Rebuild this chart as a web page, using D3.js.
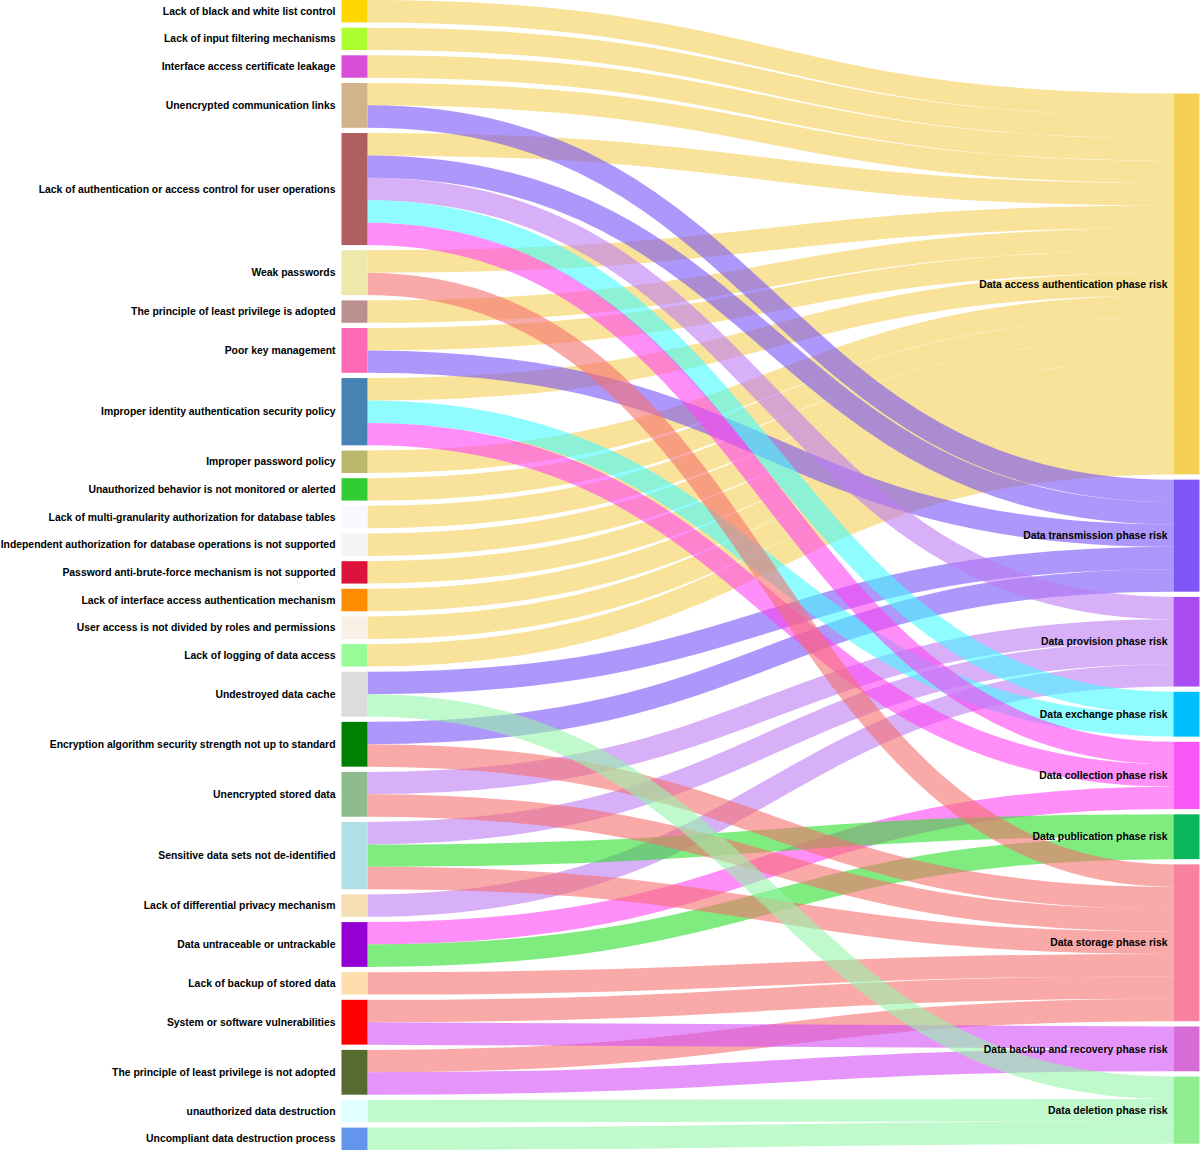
<!DOCTYPE html>
<html>
<head>
<meta charset="utf-8">
<script src="https://cdn.jsdelivr.net/npm/d3@7"></script>
<style>
  html, body { margin: 0; padding: 0; background: #ffffff; }
  svg { display: block; }
  text { font-family: "Liberation Sans", Arial, sans-serif; font-weight: bold; font-size: 10.4px; fill: #000; }
</style>
</head>
<body>
<svg id="chart" width="1200" height="1150"></svg>
<script>
// ---------------- DATA ----------------
const sourceNames = [
  "Lack of black and white list control",
  "Lack of input filtering mechanisms",
  "Interface access certificate leakage",
  "Unencrypted communication links",
  "Lack of authentication or access control for user operations",
  "Weak passwords",
  "The principle of least privilege is adopted",
  "Poor key management",
  "Improper identity authentication security policy",
  "Improper password policy",
  "Unauthorized behavior is not monitored or alerted",
  "Lack of multi-granularity authorization for database tables",
  "Independent authorization for database operations is not supported",
  "Password anti-brute-force mechanism is not supported",
  "Lack of interface access authentication mechanism",
  "User access is not divided by roles and permissions",
  "Lack of logging of data access",
  "Undestroyed data cache",
  "Encryption algorithm security strength not up to standard",
  "Unencrypted stored data",
  "Sensitive data sets not de-identified",
  "Lack of differential privacy mechanism",
  "Data untraceable or untrackable",
  "Lack of backup of stored data",
  "System or software vulnerabilities",
  "The principle of least privilege is not adopted",
  "unauthorized data destruction",
  "Uncompliant data destruction process"
];
const sourceColors = [
  "#FFD700", "#ADFF2F", "#D64FD6", "#D2B48C", "#B05F5F", "#EEE8AA", "#BC8F8F",
  "#FF69B4", "#4682B4", "#BDB76B", "#32CD32", "#F8F8FF", "#F5F5F5", "#DC143C",
  "#FF8C00", "#FAF0E6", "#98FB98", "#DCDCDC", "#008000", "#8FBC8F", "#B0E0E6",
  "#F5DEB3", "#9400D3", "#FFDEAD", "#FF0000", "#556B2F", "#E0FFFF", "#6495ED"
];
const targetKeys = ["access", "transmission", "provision", "exchange", "collection",
  "publication", "storage", "backup", "deletion"];
const targetNames = [
  "Data access authentication phase risk",
  "Data transmission phase risk",
  "Data provision phase risk",
  "Data exchange phase risk",
  "Data collection phase risk",
  "Data publication phase risk",
  "Data storage phase risk",
  "Data backup and recovery phase risk",
  "Data deletion phase risk"
];
const targetColors = ["#F5D057", "#7F56F6", "#A94CF0", "#00BFFF", "#FA55F5",
  "#0AB55E", "#F7819E", "#D66CD5", "#90EE90"];
const linkColors = ["#F5D057", "#7852F7", "#BC7BF3", "#44FAFF", "#FF43F3",
  "#2BDF2B", "#F77070", "#D44EF7", "#96F5AA"];

// targets reached by each source (one unit per link)
const sourceTargets = [
  ["access"],
  ["access"],
  ["access"],
  ["access", "transmission"],
  ["access", "transmission", "provision", "exchange", "collection"],
  ["access", "storage"],
  ["access"],
  ["access", "transmission"],
  ["access", "exchange", "collection"],
  ["access"],
  ["access"],
  ["access"],
  ["access"],
  ["access"],
  ["access"],
  ["access"],
  ["access"],
  ["transmission", "deletion"],
  ["transmission", "storage"],
  ["provision", "storage"],
  ["provision", "publication", "storage"],
  ["provision"],
  ["collection", "publication"],
  ["storage"],
  ["storage", "backup"],
  ["storage", "backup"],
  ["deletion"],
  ["deletion"]
];
const linkValue = 1;

// ---------------- LAYOUT ----------------
const W = 1200, H = 1150;
const nodeWidth = 26;
const leftX0 = 341.5;
const rightX1 = 1199.5;
const nodePadding = 5.25;
const rightTop = 93.5;
const linkOpacity = 0.6;

const links = [];
sourceTargets.forEach((ts, si) => {
  ts.forEach(tk => links.push({ source: si, target: targetKeys.indexOf(tk), value: linkValue }));
});
const total = d3.sum(links, d => d.value);

const ky = (H - (sourceNames.length - 1) * nodePadding) / total;
const yScale = d3.scaleLinear().domain([0, total]).range([0, total * ky]);

const leftNodes = sourceNames.map((name, i) => ({ name, color: sourceColors[i], value: 0, idx: i }));
const rightNodes = targetNames.map((name, i) => ({ name, color: targetColors[i], value: 0, idx: i }));
links.forEach(l => { leftNodes[l.source].value += l.value; rightNodes[l.target].value += l.value; });

let acc = 0;
leftNodes.forEach((n, i) => {
  n.x0 = leftX0; n.x1 = leftX0 + nodeWidth;
  n.y0 = yScale(acc) + i * nodePadding;
  n.y1 = n.y0 + yScale(n.value);
  acc += n.value;
});
acc = 0;
rightNodes.forEach((n, i) => {
  n.x1 = rightX1; n.x0 = rightX1 - nodeWidth;
  n.y0 = rightTop + yScale(acc) + i * nodePadding;
  n.y1 = n.y0 + yScale(n.value);
  acc += n.value;
});

leftNodes.forEach(n => {
  let y = n.y0;
  links.filter(l => l.source === n.idx).sort((a, b) => a.target - b.target).forEach(l => {
    l.width = yScale(l.value);
    l.ys = y + l.width / 2; y += l.width;
  });
});
rightNodes.forEach(n => {
  let y = n.y0;
  links.filter(l => l.target === n.idx).sort((a, b) => a.source - b.source).forEach(l => {
    l.yt = y + yScale(l.value) / 2; y += yScale(l.value);
  });
});

// draw links grouped by target
const drawLinks = links.slice().sort((a, b) => a.target - b.target || a.source - b.source);

// ---------------- DRAW ----------------
const svg = d3.select("#chart");
const linkGen = d3.linkHorizontal()
  .source(l => [leftNodes[l.source].x1, l.ys])
  .target(l => [rightNodes[l.target].x0, l.yt]);

svg.append("g")
  .attr("fill", "none")
  .selectAll("path")
  .data(drawLinks)
  .join("path")
  .attr("d", linkGen)
  .attr("stroke", l => linkColors[l.target])
  .attr("stroke-opacity", linkOpacity)
  .attr("stroke-width", l => Math.max(1, l.width));

const nodesG = svg.append("g");
nodesG.selectAll("rect.left")
  .data(leftNodes)
  .join("rect")
  .attr("class", "left")
  .attr("x", d => d.x0).attr("y", d => d.y0)
  .attr("width", d => d.x1 - d.x0).attr("height", d => d.y1 - d.y0)
  .attr("fill", d => d.color);
nodesG.selectAll("rect.right")
  .data(rightNodes)
  .join("rect")
  .attr("class", "right")
  .attr("x", d => d.x0).attr("y", d => d.y0)
  .attr("width", d => d.x1 - d.x0).attr("height", d => d.y1 - d.y0)
  .attr("fill", d => d.color);

const labels = svg.append("g");
labels.selectAll("text")
  .data(leftNodes.concat(rightNodes))
  .join("text")
  .attr("x", d => d.x0 - 6)
  .attr("y", d => (d.y0 + d.y1) / 2)
  .attr("dy", "0.35em")
  .attr("text-anchor", "end")
  .text(d => d.name);
</script>
</body>
</html>
